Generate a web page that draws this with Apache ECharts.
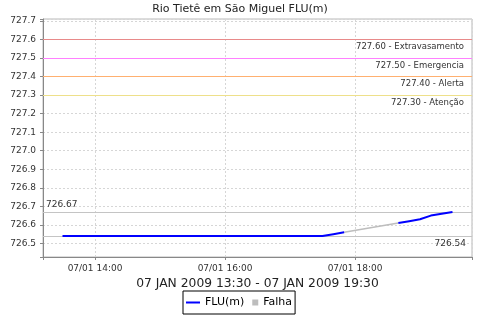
<!DOCTYPE html>
<html><head><meta charset="utf-8">
<script src="https://cdn.jsdelivr.net/npm/echarts@6/dist/echarts.min.js"></script>
<style>html,body{margin:0;padding:0;background:#fff}#c{width:480px;height:320px}</style>
</head><body><div id="c"></div>
<script>
const titleText = 'Rio Tietê em São Miguel FLU(m)';
const rangeText = '07 JAN 2009 13:30 - 07 JAN 2009 19:30';
const datePrefix = '07/01';
const times = ['13:30','13:40','13:50','14:00','14:10','14:20','14:30','14:40','14:50','15:00','15:10','15:20','15:30','15:40','15:50','16:00','16:10','16:20','16:30','16:40','16:50','17:00','17:10','17:20','17:30','17:40','17:50','18:00','18:10','18:20','18:30','18:40','18:50','19:00','19:10','19:20','19:30'];
const flu = [726.54,726.54,726.54,726.54,726.54,726.54,726.54,726.54,726.54,726.54,726.54,726.54,726.54,726.54,726.54,726.54,726.54,726.54,726.54,726.54,726.54,726.54,726.54,726.54,726.54,726.55,726.56,null,null,null,null,726.61,726.62,726.63,726.65,726.66,726.67];
const falha = [null,null,null,null,null,null,null,null,null,null,null,null,null,null,null,null,null,null,null,null,null,null,null,null,null,null,726.56,null,null,null,null,726.61,null,null,null,null,null];
const thresholds = [727.60, 727.50, 727.40, 727.30];
const thresholdNames = ['Extravasamento', 'Emergencia', 'Alerta', 'Atenção'];
const thresholdColors = ['#e88a8a', '#ff80ff', '#ffb070', '#eee08a'];
const maxValue = 726.67;
const minValue = 726.54;
const yMax = 727.71058, yMin = 726.42673;
const xMin = 13.2, xMax = 19.8;

const toH = s => { const [h, m] = s.split(':').map(Number); return h + m / 60; };
const pair = arr => times.map((t, i) => [toH(t), arr[i]]);
const FONT = 'DejaVu Sans';

const chart = echarts.init(document.getElementById('c'), null, {renderer: 'canvas'});
const thresholdLines = thresholds.map((v, i) => ({
  yAxis: v,
  lineStyle: {color: thresholdColors[i], width: 1, type: 'solid', opacity: 1},
  label: {show: true, position: 'insideEndBottom', distance: [8, 3], formatter: v.toFixed(2) + ' - ' + thresholdNames[i],
          fontFamily: FONT, fontSize: 8.5, color: '#333'}
}));
chart.setOption({
  animation: false,
  backgroundColor: '#fff',
  title: {text: titleText, left: 'center', top: 4, padding: 0,
          textStyle: {fontFamily: FONT, fontSize: 11, fontWeight: 'normal', color: '#222'}},
  grid: {left: 43, right: 8, top: 19, bottom: 63, show: true, borderColor: '#b8b8b8', borderWidth: 1, backgroundColor: '#fff'},
  legend: {
    left: 183, top: 291, padding: [6, 3], itemGap: 0, itemWidth: 14, itemHeight: 6,
    borderColor: '#000', borderWidth: 1, borderRadius: 0,
    textStyle: {fontFamily: FONT, fontSize: 11, color: '#000'},
    itemStyle: {borderWidth: 0},
    data: [
      {name: 'FLU(m)', icon: 'path://M0,0L14,0L14,2L0,2Z'},
      {name: 'Falha', icon: 'path://M-8,0L-8,0M0,0L6,0L6,6L0,6Z'}
    ]
  },
  xAxis: {
    type: 'value', min: xMin, max: xMax, splitNumber: 3,
    name: rangeText, nameLocation: 'middle', nameGap: 17,
    nameTextStyle: {fontFamily: FONT, fontSize: 12.3, color: '#222', verticalAlign: 'top'},
    axisLine: {show: true, onZero: false, lineStyle: {color: '#888', width: 1}},
    axisTick: {show: true, length: 3, lineStyle: {color: '#888'}},
    axisLabel: {fontFamily: FONT, fontSize: 9, color: '#333', margin: 7,
      formatter: v => { const r = Math.round(v); return (Math.abs(v - r) < 1e-6 && r % 2 === 0) ? datePrefix + ' ' + r + ':00' : ''; }},
    splitLine: {show: true, lineStyle: {color: '#d6d6d6', type: [2, 2], width: 1}}
  },
  yAxis: {
    type: 'value', min: yMin, max: yMax, splitNumber: 13, scale: true,
    axisLine: {show: true, lineStyle: {color: '#888', width: 1}},
    axisTick: {show: true, length: 3, lineStyle: {color: '#888'}},
    axisLabel: {fontFamily: FONT, fontSize: 9, color: '#333', margin: 7,
      formatter: v => { const r = Math.round(v * 10); return Math.abs(v * 10 - r) < 1e-6 ? (r / 10).toFixed(1) : ''; }},
    splitLine: {show: true, lineStyle: {color: '#d6d6d6', type: [2, 2], width: 1}}
  },
  series: [
    {
      name: 'markers', type: 'line', data: [], z: 2, silent: true,
      markLine: {
        silent: true, symbol: 'none', animation: false, z: 1,
        data: thresholdLines.concat([
          {yAxis: maxValue, lineStyle: {color: '#c4c4c4', width: 1, type: 'solid'},
           label: {show: true, position: 'insideStartTop', distance: [3, 3], formatter: maxValue.toFixed(2), fontFamily: FONT, fontSize: 9, color: '#333'}},
          {yAxis: minValue, lineStyle: {color: '#c4c4c4', width: 1, type: 'solid'},
           label: {show: true, position: 'insideEndBottom', distance: [6, 3], formatter: minValue.toFixed(2), fontFamily: FONT, fontSize: 9, color: '#333'}}
        ])
      }
    },
    {
      name: 'Falha', type: 'line', data: pair(falha), connectNulls: true, showSymbol: false, symbol: 'none', z: 3,
      color: '#bdbdbd', lineStyle: {color: '#bdbdbd', width: 1.5}
    },
    {
      name: 'FLU(m)', type: 'line', data: pair(flu), connectNulls: false, showSymbol: false, symbol: 'none', z: 4,
      color: '#0000ff', lineStyle: {color: '#0000ff', width: 2}
    }
  ]
});
</script></body></html>
